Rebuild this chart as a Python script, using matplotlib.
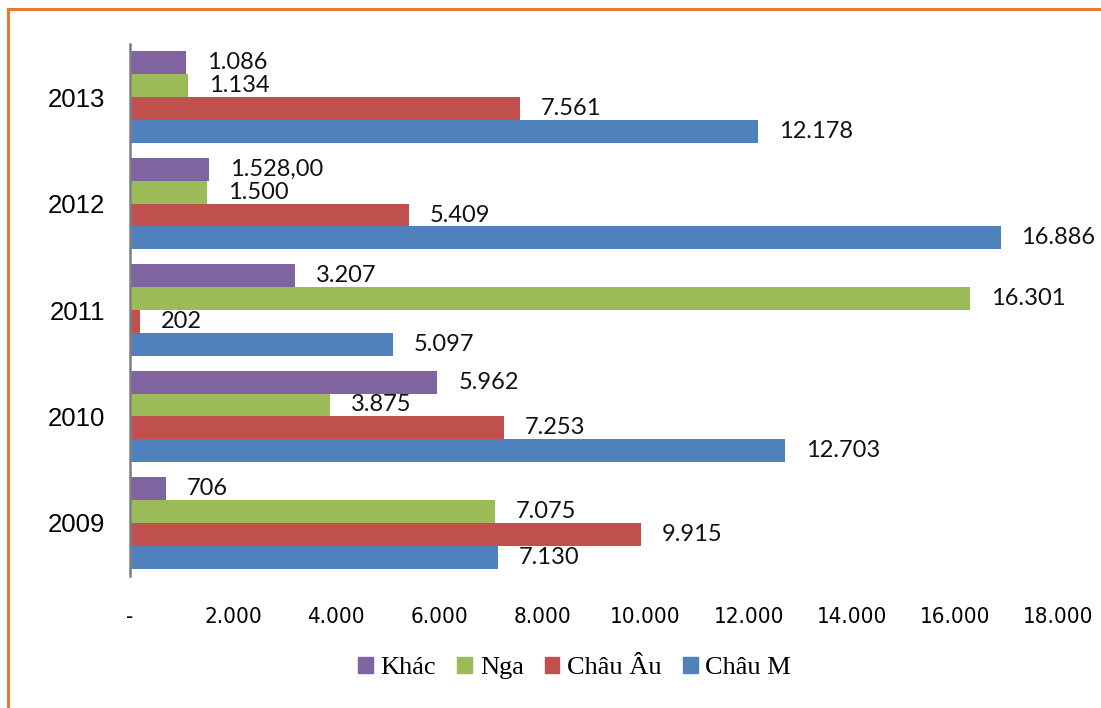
import numpy as np
import matplotlib.pyplot as plt
from matplotlib.lines import Line2D

years = ["2009", "2010", "2011", "2012", "2013"]
series = ["Châu M", "Châu Âu", "Nga", "Khác"]
chau_m = [7130, 12703, 5097, 16886, 12178]
chau_au = [9915, 7253, 202, 5409, 7561]
nga = [7075, 3875, 16301, 1500, 1134]
khac = [706, 5962, 3207, 1528, 1086]
labels_m = ["7.130", "12.703", "5.097", "16.886", "12.178"]
labels_au = ["9.915", "7.253", "202", "5.409", "7.561"]
labels_nga = ["7.075", "3.875", "16.301", "1.500", "1.134"]
labels_khac = ["706", "5.962", "3.207", "1.528,00", "1.086"]
x_ticks = [0, 2000, 4000, 6000, 8000, 10000, 12000, 14000, 16000, 18000]
x_ticklabels = ["-", "2.000", "4.000", "6.000", "8.000", "10.000",
                "12.000", "14.000", "16.000", "18.000"]

colors = {"Châu M": "#4F81BD", "Châu Âu": "#C0504D",
          "Nga": "#9BBB59", "Khác": "#8064A2"}
values = {"Châu M": chau_m, "Châu Âu": chau_au, "Nga": nga, "Khác": khac}
texts = {"Châu M": labels_m, "Châu Âu": labels_au,
         "Nga": labels_nga, "Khác": labels_khac}

fig = plt.figure(figsize=(11.01, 7.08), dpi=100)
ax = fig.add_axes([130 / 1101, 1 - 576 / 708, 928 / 1101, 532 / 708])

h = 0.215
pos = np.arange(len(years))
for k, name in enumerate(series):
    y = pos + (k - 1.5) * h
    ax.barh(y, values[name], height=h, color=colors[name], edgecolor="none")
    for yy, v, t in zip(y, values[name], texts[name]):
        ax.annotate(t, (v, yy), xytext=(15, 0), textcoords="offset points",
                    va="center", ha="left", fontsize=17, family="Lato",
                    color="#111111")

ax.set_xlim(0, 18000)
ax.set_ylim(-0.5, 4.5)
ax.set_yticks(pos)
ax.set_yticklabels(years, fontsize=18.5, family="Liberation Sans")
ax.set_xticks(x_ticks)
ax.set_xticklabels(x_ticklabels, fontsize=16, family="DejaVu Sans",
                   fontstretch="condensed")
ax.tick_params(axis="both", length=0)
ax.tick_params(axis="x", pad=22)
ax.tick_params(axis="y", pad=18)
for s in ["top", "right", "bottom"]:
    ax.spines[s].set_visible(False)
ax.spines["left"].set_color("#7F7F7F")
ax.spines["left"].set_linewidth(1.8)

handles = [plt.Rectangle((0, 0), 1, 1, color=colors[n]) for n in series[::-1]]
fig.legend(handles, series[::-1], loc="center", bbox_to_anchor=(0.522, 1 - 668 / 708),
           ncol=4, frameon=False, handlelength=0.55, handleheight=0.55,
           columnspacing=0.8, handletextpad=0.3,
           prop={"family": "Liberation Serif", "size": 19})

# orange chart border (only top and left edges are visible)
fig.add_artist(Line2D([8 / 1101, 1.0], [1 - 9 / 708, 1 - 9 / 708],
                      color="#E8792A", linewidth=2.2, transform=fig.transFigure))
fig.add_artist(Line2D([8 / 1101, 8 / 1101], [1 - 9 / 708, 0.0],
                      color="#E8792A", linewidth=2.2, transform=fig.transFigure))

fig.savefig("out.png", dpi=100)
